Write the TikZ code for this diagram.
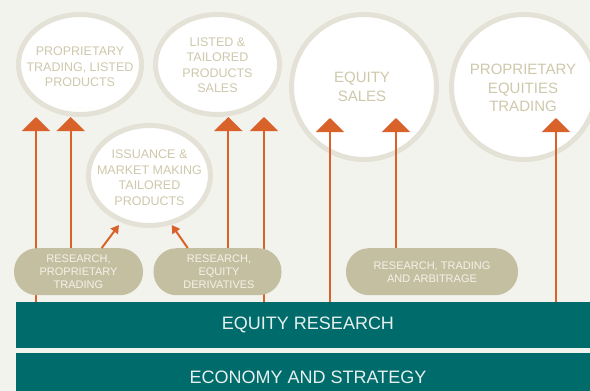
\documentclass[tikz,border=0pt]{standalone}
\usepackage{fontspec}
\setmainfont{Liberation Sans}
\usetikzlibrary{arrows.meta,shapes.geometric}
\definecolor{paper}{HTML}{F3F3EE}
\definecolor{ringc}{HTML}{E4E2D6}
\definecolor{ringtxt}{HTML}{CEC8AC}
\definecolor{pillc}{HTML}{C5BFA2}
\definecolor{pilltxt}{HTML}{F4F2E8}
\definecolor{deskc}{HTML}{006B6B}
\definecolor{desktxt}{HTML}{E6F0EE}
\definecolor{feedc}{HTML}{D9622B}

\begin{document}
\begin{tikzpicture}[x=1pt,y=-1pt]
\tikzstyle{every node}=[inner sep=0pt, align=center]
\tikzstyle{ring}=[ellipse, draw=ringc, line width=5pt, fill=white]
\tikzstyle{ringtext}=[text=ringtxt, font=\fontsize{12.5}{15.5}\selectfont]
\tikzstyle{bigtext}=[text=ringtxt, font=\fontsize{15}{18.5}\selectfont]
\tikzstyle{pill}=[fill=pillc, rounded corners=23pt, minimum height=47pt, text=pilltxt, font=\fontsize{11}{12.8}\selectfont]
\tikzstyle{desk}=[fill=deskc, minimum width=584pt, text=desktxt, font=\fontsize{18}{20}\selectfont]
\tikzstyle{feed}=[draw=feedc, line width=2pt, -{Triangle[width=28pt,length=14pt]}]
\tikzstyle{feedsmall}=[draw=feedc, line width=2pt, -{Triangle[width=9pt,length=8pt]}]
\clip (0,0) rectangle (590,391);
\fill[paper] (0,0) rectangle (590,391);
% desks
\draw (80,64.5) node (plp) [ring, minimum width=123pt, minimum height=100pt] {};
\draw (217.5,64.5) node (ltp) [ring, minimum width=124pt, minimum height=100pt] {};
\draw (149.5,175.5) node (imm) [ring, minimum width=122pt, minimum height=100pt] {};
\draw (364,87) node (eqs) [ring, minimum width=145pt, minimum height=145pt] {};
\draw (524,87) node (pet) [ring, minimum width=145pt, minimum height=145pt] {};
\draw (80,67) node (plpt) [ringtext] {PROPRIETARY\\TRADING, LISTED\\PRODUCTS};
\draw (217.5,65) node (ltpt) [ringtext] {LISTED \&\\TAILORED\\PRODUCTS\\SALES};
\draw (149.5,177.5) node (immt) [ringtext] {ISSUANCE \&\\MARKET MAKING\\TAILORED\\PRODUCTS};
\draw (362,87) node (eqst) [bigtext] {EQUITY\\SALES};
\draw (523,88.3) node (pett) [bigtext] {PROPRIETARY\\EQUITIES\\TRADING};
% bars
\draw (308,325) node (res) [desk, minimum height=46pt] {EQUITY RESEARCH};
\draw (308,377) node (eco) [desk, minimum height=48pt] {ECONOMY AND STRATEGY};
% arrows
\coordinate (t1) at (36,117);
\coordinate (t2) at (70.7,117);
\coordinate (t3) at (228.3,117);
\coordinate (t4) at (264,117);
\coordinate (t5) at (330,118);
\coordinate (t6) at (396,118);
\coordinate (t7) at (556,118);
\coordinate (s1) at (119,225);
\coordinate (s2) at (171.7,225);
\coordinate (b1) at (101.7,0);
\coordinate (b2) at (187.7,0);
\draw[feed] (t1 |- res.north) -- (t1);
\draw[feed] (t4 |- res.north) -- (t4);
\draw[feed] (t5 |- res.north) -- (t5);
\draw[feed] (t7 |- res.north) -- (t7);
% research pills
\draw (78.5,271.7) node (rpt) [pill, minimum width=129pt] {};
\draw (217.5,271.7) node (red) [pill, minimum width=128pt] {};
\draw (432,271.7) node (rta) [pill, minimum width=172pt] {};
\draw (78.5,271.8) node (rptt) [pill, fill=none] {RESEARCH,\\PROPRIETARY\\TRADING};
\draw (219,271.8) node (redt) [pill, fill=none] {RESEARCH,\\EQUITY\\DERIVATIVES};
\draw (432,272) node (rtat) [pill, fill=none] {RESEARCH, TRADING\\AND ARBITRAGE};
\draw[feed] (t2 |- rpt.north) -- (t2);
\draw[feed] (t3 |- red.north) -- (t3);
\draw[feed] (t6 |- rta.north) -- (t6);
\draw[feedsmall] (b1 |- rpt.north) -- (s1);
\draw[feedsmall] (b2 |- red.north) -- (s2);
\end{tikzpicture}
\end{document}
